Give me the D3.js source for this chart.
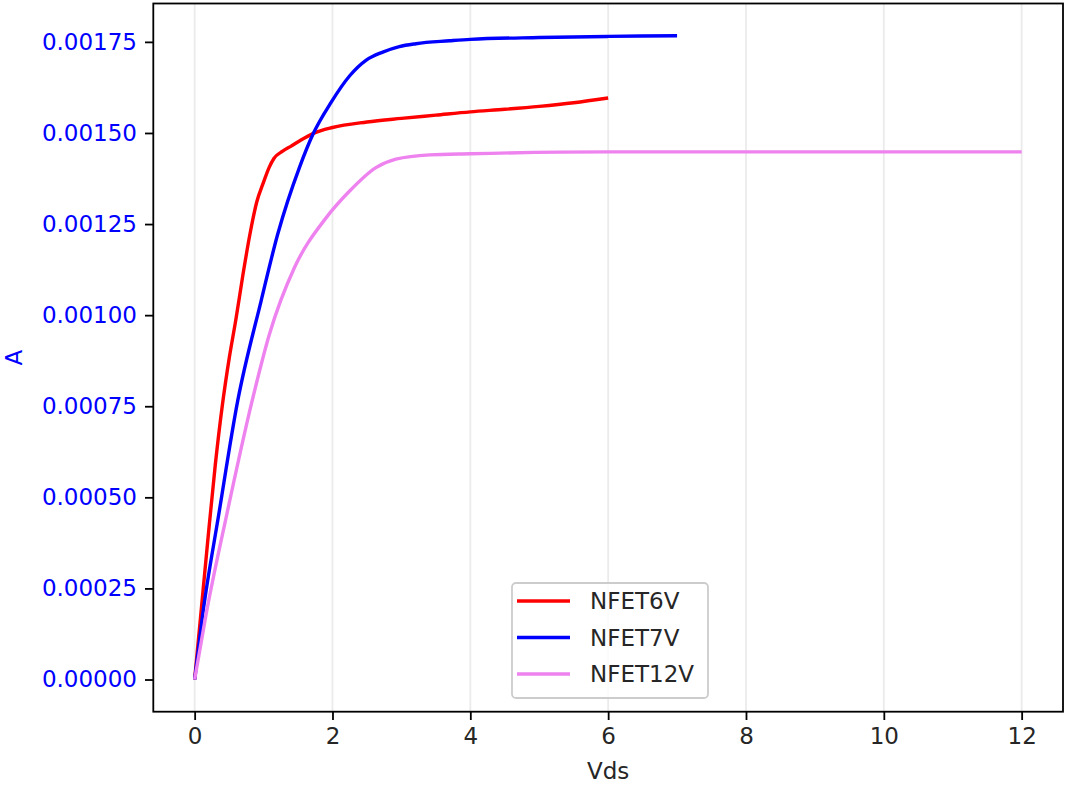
<!DOCTYPE html>
<html>
<head>
<meta charset="utf-8">
<script src="https://cdn.jsdelivr.net/npm/d3@7"></script>
<style>
  body { margin: 0; background: #fff; }
  svg { display: block; font-family: "DejaVu Sans", sans-serif; }
</style>
</head>
<body>
<svg id="chart" width="1065" height="787"></svg>
<script>
// series (Vds in volts, current in A)
var names = ["NFET6V", "NFET7V", "NFET12V"];
var colors = ["red", "blue", "violet"];

var vds6 = [0, 0.1, 0.2, 0.3, 0.4, 0.5, 0.6, 0.7, 0.8, 0.9, 1.0, 1.08, 1.15, 1.277, 1.4, 1.52, 1.723, 2.0, 2.5, 3.0, 3.5, 4.0, 4.5, 5.0, 5.5, 6.0];
var amp6 = [0, 0.0002, 0.0004, 0.00059, 0.00075, 0.00088, 0.00099, 0.00111, 0.00122, 0.00131, 0.001365, 0.001405, 0.00143, 0.00145, 0.001464, 0.001478, 0.001499, 0.001515, 0.00153, 0.00154, 0.001549, 0.001558, 0.001565, 0.001573, 0.001583, 0.001596];

var vds7 = [0, 0.116, 0.349, 0.624, 0.963, 1.205, 1.52, 1.723, 1.98, 2.25, 2.49, 2.73, 2.97, 3.21, 3.70, 4.0, 5.0, 6.0, 7.0];
var amp7 = [0, 0.000178, 0.000452, 0.000764, 0.001038, 0.001222, 0.001405, 0.001499, 0.001584, 0.001657, 0.0017, 0.001722, 0.001737, 0.001745, 0.001753, 0.001757, 0.001762, 0.001765, 0.001767];

var vds12 = [0, 0.165, 0.465, 0.833, 1.084, 1.447, 1.907, 2.245, 2.63, 2.92, 3.41, 4.0, 6.0, 8.0, 10.0, 12.0];
var amp12 = [0, 0.000178, 0.000452, 0.000764, 0.000947, 0.00113, 0.001267, 0.00134, 0.001405, 0.001428, 0.00144, 0.001443, 0.001448, 0.001448, 0.001448, 0.001448];

var xTicks = [0, 2, 4, 6, 8, 10, 12];
var yTicks = [0, 0.00025, 0.0005, 0.00075, 0.001, 0.00125, 0.0015, 0.00175];

var xs = [vds6, vds7, vds12];
var ys = [amp6, amp7, amp12];

var fontSize = 23;
var mLeft = 153.3, mRight = 1063, mTop = 3.5, mBottom = 711.7;

var svg = d3.select("#chart");

// matplotlib style 5% margins
var xMin = 0, xMax = 12;
var xPad = (xMax - xMin) * 0.05;
var x = d3.scaleLinear().domain([xMin - xPad, xMax + xPad]).range([mLeft, mRight]);
var yMin = 0, yMax = d3.max(ys, function (a) { return d3.max(a); });
var yPad = (yMax - yMin) * 0.05;
var y = d3.scaleLinear().domain([yMin - yPad, yMax + yPad]).range([mBottom, mTop]);

// vertical grid
svg.append("g").selectAll("line")
    .data(xTicks)
    .enter()
    .append("line")
    .attr("x1", function (d) { return x(d); })
    .attr("x2", function (d) { return x(d); })
    .attr("y1", mTop)
    .attr("y2", mBottom)
    .attr("stroke", "#b0b0b0")
    .attr("stroke-opacity", 0.25)
    .attr("stroke-width", 1.8);

// curves
var line = d3.line()
    .x(function (d) { return x(d[0]); })
    .y(function (d) { return y(d[1]); })
    .curve(d3.curveMonotoneX);

names.forEach(function (n, i) {
    var pts = xs[i].map(function (v, j) { return [v, ys[i][j]]; });
    svg.append("path")
        .datum(pts)
        .attr("d", line)
        .attr("fill", "none")
        .attr("stroke", colors[i])
        .attr("stroke-width", 3.4)
        .attr("stroke-linejoin", "round")
        .attr("stroke-linecap", "butt");
});

// axes
var xAxis = svg.append("g")
    .attr("transform", "translate(0," + mBottom + ")")
    .call(d3.axisBottom(x).tickValues(xTicks).tickSize(8.3).tickPadding(8).tickFormat(d3.format("d")));
xAxis.select(".domain").remove();
xAxis.selectAll("line").attr("stroke", "#000").attr("stroke-width", 1.8);
xAxis.selectAll("text")
    .attr("font-family", "DejaVu Sans")
    .attr("font-size", fontSize + "px")
    .attr("fill", "#262626");

var yAxis = svg.append("g")
    .attr("transform", "translate(" + mLeft + ",0)")
    .call(d3.axisLeft(y).tickValues(yTicks).tickSize(8.3).tickPadding(8).tickFormat(d3.format(".5f")));
yAxis.select(".domain").remove();
yAxis.selectAll("line").attr("stroke", "#000").attr("stroke-width", 1.8);
yAxis.selectAll("text")
    .attr("font-family", "DejaVu Sans")
    .attr("font-size", fontSize + "px")
    .attr("fill", "blue");

// frame
svg.append("rect")
    .attr("x", mLeft)
    .attr("y", mTop)
    .attr("width", mRight - mLeft)
    .attr("height", mBottom - mTop)
    .attr("fill", "none")
    .attr("stroke", "#000")
    .attr("stroke-width", 1.8);

// labels
svg.append("text")
    .attr("x", (mLeft + mRight) / 2)
    .attr("y", 779)
    .attr("text-anchor", "middle")
    .attr("font-size", fontSize + "px")
    .attr("fill", "#262626")
    .text("Vds");

svg.append("text")
    .attr("transform", "translate(22," + ((mTop + mBottom) / 2) + ") rotate(-90)")
    .attr("text-anchor", "middle")
    .attr("font-size", fontSize + "px")
    .attr("fill", "blue")
    .text("A");

// legend
var lg = svg.append("g");
lg.append("rect")
    .attr("x", 512)
    .attr("y", 583)
    .attr("width", 196)
    .attr("height", 115)
    .attr("rx", 4)
    .attr("fill", "#fff")
    .attr("fill-opacity", 0.8)
    .attr("stroke", "#cccccc")
    .attr("stroke-width", 1.8);

names.forEach(function (n, i) {
    var ry = 601 + i * 36.5;
    lg.append("line")
        .attr("x1", 517)
        .attr("x2", 570)
        .attr("y1", ry)
        .attr("y2", ry)
        .attr("stroke", colors[i])
        .attr("stroke-width", 3.4);
    lg.append("text")
        .attr("x", 590)
        .attr("y", ry)
        .attr("dy", "0.36em")
        .attr("font-size", fontSize + "px")
        .attr("fill", "#262626")
        .text(n);
});
</script>
</body>
</html>
